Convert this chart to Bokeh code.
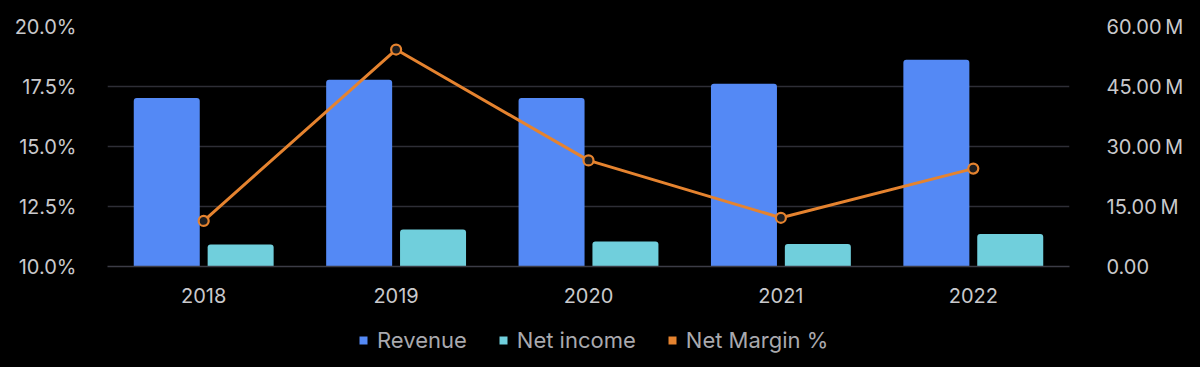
from bokeh.plotting import figure
from bokeh.layouts import column
from bokeh.models import (ColumnDataSource, FactorRange, Range1d, LinearAxis, FixedTicker,
                          PrintfTickFormatter, CustomJSTickFormatter, Legend, LegendItem)
from bokeh.transform import dodge
from bokeh.embed import file_html
from bokeh.resources import INLINE

years = ["2018", "2019", "2020", "2021", "2022"]
revenue = [42.1e6, 46.7e6, 42.1e6, 45.7e6, 51.7e6]
net_income = [5.5e6, 9.25e6, 6.25e6, 5.6e6, 8.1e6]
net_margin = [11.9, 19.04, 14.42, 12.03, 14.08]

left_ticks = [10, 12.5, 15, 17.5, 20]
right_ticks = [0, 15e6, 30e6, 45e6, 60e6]
series_names = ["Revenue", "Net income", "Net Margin %"]

src = ColumnDataSource(dict(year=years, revenue=revenue, net_income=net_income, margin=net_margin))

FONT = "Inter"
TXT = "#c9c9cc"
BG = "#000000"
C_REV = "#5489F5"
C_NI = "#70CFDC"
C_NM = "#E5832F"

p = figure(x_range=FactorRange(*years), y_range=Range1d(10, 20),
           width=1200, height=318, output_backend="svg", toolbar_location=None,
           background_fill_color=BG, border_fill_color=BG, outline_line_color=None,
           min_border_left=107, min_border_right=131, min_border_top=26, min_border_bottom=52)
p.extra_y_ranges = {"m": Range1d(0, 60e6)}

p.vbar(x=dodge("year", -0.192, range=p.x_range), top="revenue", bottom=0, width=0.343,
       source=src, y_range_name="m", fill_color=C_REV, line_color=None,
       border_radius=(3, 3, 0, 0))
p.vbar(x=dodge("year", 0.192, range=p.x_range), top="net_income", bottom=0, width=0.343,
       source=src, y_range_name="m", fill_color=C_NI, line_color=None,
       border_radius=(3, 3, 0, 0))
p.line(x="year", y="margin", source=src, line_color=C_NM, line_width=3)
p.scatter(x="year", y="margin", source=src, size=10, fill_color="#1c1c1e",
          line_color=C_NM, line_width=2.2)

# left axis
ya = p.yaxis[0]
ya.ticker = FixedTicker(ticks=left_ticks)
ya.formatter = PrintfTickFormatter(format="%.1f%%")
ya.axis_line_color = None
ya.major_tick_line_color = None
ya.minor_tick_line_color = None
ya.major_label_text_color = TXT
ya.major_label_text_font = FONT
ya.major_label_text_font_size = "20px"
ya.major_label_standoff = 25

# right axis
ra = LinearAxis(y_range_name="m", ticker=FixedTicker(ticks=right_ticks),
                formatter=CustomJSTickFormatter(code="return tick == 0 ? '0.00' : (tick/1e6).toFixed(2) + '\u2009M';"))
ra.axis_line_color = None
ra.major_tick_line_color = None
ra.minor_tick_line_color = None
ra.major_label_text_color = TXT
ra.major_label_text_font = FONT
ra.major_label_text_font_size = "20px"
ra.major_label_standoff = 31
p.add_layout(ra, "right")

# x axis
xa = p.xaxis[0]
xa.axis_line_color = "#3c3c46"
xa.axis_line_width = 1.5
xa.major_tick_line_color = None
xa.minor_tick_line_color = None
xa.major_label_text_color = TXT
xa.major_label_text_font = FONT
xa.major_label_text_font_size = "20px"
xa.major_label_standoff = 15

p.xgrid.grid_line_color = None
p.ygrid.grid_line_color = "#2e2e36"
p.ygrid.grid_line_width = 1.5
p.ygrid.ticker = FixedTicker(ticks=left_ticks)

# legend strip below the chart
lf = figure(x_range=Range1d(0, 1), y_range=Range1d(0, 1), width=1200, height=49,
            output_backend="svg", toolbar_location=None, background_fill_color=BG,
            border_fill_color=BG, outline_line_color=None, min_border=0)
lf.axis.visible = False
lf.grid.visible = False
items = []
for name, col in zip(series_names, [C_REV, C_NI, C_NM]):
    r = lf.vbar(x=[-5], top=[-5], bottom=[-6], width=0.1, fill_color=col, line_color=None,
                border_radius=2)
    items.append(LegendItem(label=name, renderers=[r]))
legend = Legend(items=items, orientation="horizontal", location=(251, 14),
                background_fill_alpha=0, border_line_color=None,
                label_text_color="#a9a9ae", label_text_font=FONT, label_text_font_size="22px",
                glyph_width=10, glyph_height=10, spacing=31, label_standoff=9,
                padding=0, margin=0)
lf.add_layout(legend, "center")

layout = column(p, lf, spacing=0, styles={"background-color": "#000000"})
open("out.html", "w").write(file_html(layout, INLINE))
